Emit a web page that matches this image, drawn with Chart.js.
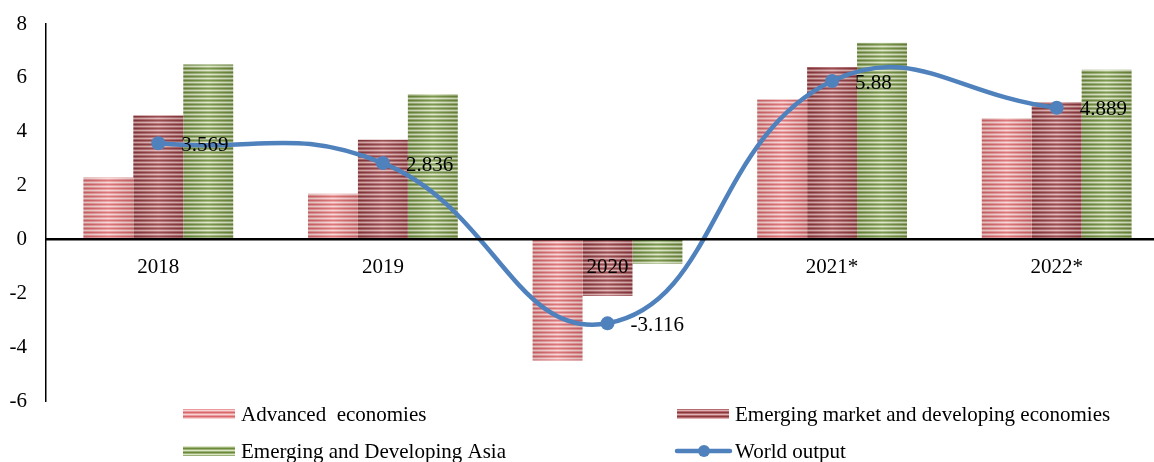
<!DOCTYPE html>
<html><head><meta charset="utf-8">
<script src="https://cdn.jsdelivr.net/npm/chart.js@4/dist/chart.umd.min.js"></script>
<style>html,body{margin:0;padding:0;background:#fff;overflow:hidden;width:1154px;height:462px}#wrap{width:1169px;height:462px;position:relative}</style>
</head><body><div id="wrap"><canvas id="c"></canvas></div>
<script>
// Growth rates, %
const years = ['2018', '2019', '2020', '2021*', '2022*'];
const advanced = [2.3, 1.7, -4.5, 5.2, 4.5];
const emerging = [4.6, 3.7, -2.1, 6.4, 5.1];
const asia = [6.5, 5.4, -0.9, 7.3, 6.3];
const world = [3.569, 2.836, -3.116, 5.88, 4.889];
const yMin = -6, yMax = 8, yStep = 2;

const SERIF = '"Liberation Serif", "Times New Roman", serif';
const FONT_PX = 21;

// Horizontal stripe fill: dark / mid / light / mid rows, 4px period
function stripes(dark, mid, light) {
  const c = document.createElement('canvas');
  c.width = 1; c.height = 4;
  const g = c.getContext('2d');
  [dark, mid, light, mid].forEach((col, i) => { g.fillStyle = col; g.fillRect(0, i, 1, 1); });
  return g.createPattern(c, 'repeat');
}
const ctx = document.getElementById('c').getContext('2d');
const fillRed = stripes('#d7676b', '#e99a9c', '#f8d3d3');
const fillMaroon = stripes('#8b383c', '#b46b6e', '#e0b2b3');
const fillGreen = stripes('#6c8b38', '#9db278', '#dde6c4');
const lineBlue = '#4f81bd';

// Soft sheen across each bar
const barSheen = {
  id: 'barSheen',
  afterDatasetDraw(chart, args) {
    const meta = args.meta;
    if (meta.type !== 'bar') return;
    const c = chart.ctx;
    c.save();
    meta.data.forEach(el => {
      const p = el.getProps(['x', 'y', 'base', 'width'], true);
      const l = p.x - p.width / 2, r = p.x + p.width / 2;
      const top = Math.min(p.y, p.base), h = Math.abs(p.base - p.y);
      const g = c.createLinearGradient(l, 0, r, 0);
      g.addColorStop(0, 'rgba(0,0,0,0.10)');
      g.addColorStop(0.5, 'rgba(255,255,255,0.12)');
      g.addColorStop(1, 'rgba(0,0,0,0.10)');
      c.fillStyle = g;
      c.fillRect(l, top, r - l, h);
    });
    c.restore();
  }
};

// Value labels to the right of the world output points
const pointLabels = {
  id: 'pointLabels',
  afterDatasetsDraw(chart) {
    const idx = chart.data.datasets.findIndex(d => d.type === 'line');
    const meta = chart.getDatasetMeta(idx);
    const c = chart.ctx;
    c.save();
    c.font = FONT_PX + 'px ' + SERIF;
    c.fillStyle = '#000';
    c.textAlign = 'left';
    c.textBaseline = 'middle';
    meta.data.forEach((pt, i) => {
      c.fillText(String(chart.data.datasets[idx].data[i]), pt.x + 23, pt.y + 2);
    });
    c.restore();
  }
};

// Two-column legend under the plot
const legendBoxes = {
  id: 'legendBoxes',
  afterDraw(chart) {
    const c = chart.ctx;
    const ds = chart.data.datasets;
    const slots = [
      { x: 183, y: 414 }, { x: 677, y: 414 },
      { x: 183, y: 451 }, { x: 677, y: 451 }
    ];
    const order = [1, 2, 3, 0];
    c.save();
    c.font = FONT_PX + 'px ' + SERIF;
    c.fillStyle = '#000';
    c.textBaseline = 'middle';
    order.forEach((di, k) => {
      const d = ds[di], s = slots[k];
      if (d.type === 'line') {
        c.strokeStyle = d.borderColor;
        c.lineWidth = 4.5;
        c.lineCap = 'round';
        c.beginPath(); c.moveTo(s.x, s.y); c.lineTo(s.x + 53, s.y); c.stroke();
        c.fillStyle = d.borderColor;
        c.beginPath(); c.arc(s.x + 27, s.y, 6, 0, Math.PI * 2); c.fill();
      } else {
        c.fillStyle = d.backgroundColor;
        c.fillRect(s.x, s.y - 5, 52, 10);
      }
      c.fillStyle = '#000';
      c.fillText(d.label, s.x + 58, s.y + 1);
    });
    c.restore();
  }
};

new Chart(ctx, {
  data: {
    labels: years,
    datasets: [
      {
        type: 'line', label: 'World output', data: world, order: 0,
        borderColor: lineBlue, backgroundColor: lineBlue, borderWidth: 4.5,
        pointRadius: 7, pointBackgroundColor: lineBlue, pointBorderWidth: 0,
        tension: 0.45, fill: false
      },
      { type: 'bar', label: 'Advanced  economies', data: advanced, backgroundColor: fillRed, order: 1 },
      { type: 'bar', label: 'Emerging market and developing economies', data: emerging, backgroundColor: fillMaroon, order: 1 },
      { type: 'bar', label: 'Emerging and Developing Asia', data: asia, backgroundColor: fillGreen, order: 1 }
    ]
  },
  options: {
    responsive: true,
    maintainAspectRatio: false,
    animation: false,
    layout: { autoPadding: false, padding: { left: 0, right: 0, top: 24, bottom: 61 } },
    datasets: { bar: { categoryPercentage: 0.667, barPercentage: 1.0, borderWidth: 0 } },
    plugins: { legend: { display: false }, tooltip: { enabled: false } },
    scales: {
      x: {
        position: { y: 0 },
        grid: { display: false, drawTicks: false },
        border: { display: true, color: '#000', width: 2.5, z: 1 },
        ticks: { font: { family: SERIF, size: FONT_PX }, color: '#000', padding: 15, autoSkip: false, maxRotation: 0, z: 1 },
        afterFit(s) { s.paddingLeft = 0; s.paddingRight = 0; }
      },
      y: {
        min: yMin, max: yMax,
        grid: { display: false, drawTicks: false },
        border: { display: true, color: '#000', width: 1.5 },
        ticks: { stepSize: yStep, font: { family: SERIF, size: FONT_PX }, color: '#000', padding: 19 },
        afterFit(s) { s.width = 46; s.paddingTop = 0; s.paddingBottom = 0; }
      }
    }
  },
  plugins: [barSheen, pointLabels, legendBoxes]
});
</script>
</body></html>
